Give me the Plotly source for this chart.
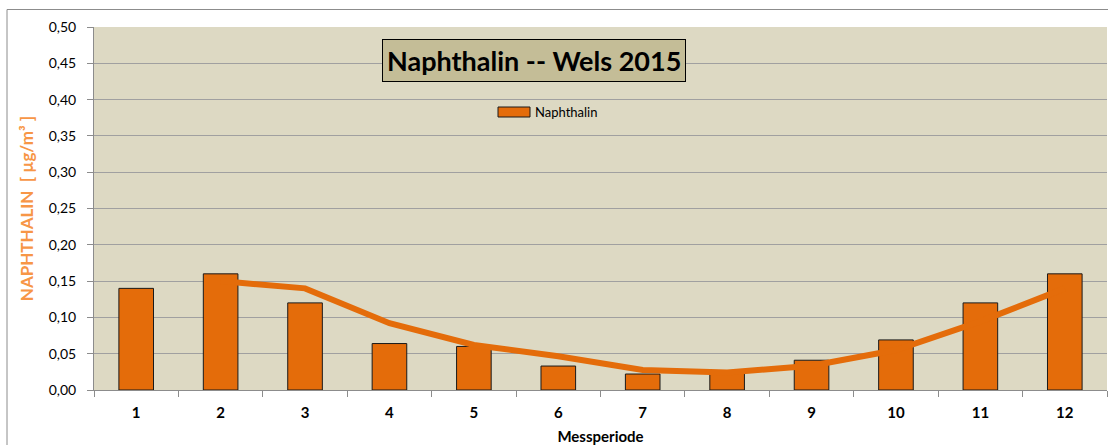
import plotly.graph_objects as go

periods = [str(i) for i in range(1, 13)]
naphthalin = [0.14, 0.16, 0.12, 0.064, 0.06, 0.033, 0.022, 0.026, 0.041, 0.069, 0.12, 0.16]
trend_x = periods[1:]
trend_y = [0.15, 0.14, 0.092, 0.062, 0.0465, 0.0275, 0.024, 0.0335, 0.055, 0.0945, 0.14]
y_ticks = [i * 0.05 for i in range(11)]
y_labels = [f"{v:.2f}".replace(".", ",") for v in y_ticks]

FONT = "Lato, 'Open Sans', sans-serif"
ORANGE = "#e46c0a"

L, R, T, B = 94, 1, 27, 55
W, H = 1108, 445
PW, PH = W - L - R, H - T - B


def px(x):
    return (x - L) / PW


def py(y):
    return (H - B - y) / PH


fig = go.Figure()
fig.add_trace(go.Bar(
    x=periods, y=naphthalin, name="Naphthalin", showlegend=False,
    marker=dict(color=ORANGE, line=dict(color="#1a1a1a", width=1)),
    width=0.41,
))
fig.add_trace(go.Scatter(
    x=trend_x, y=trend_y, mode="lines", showlegend=False,
    line=dict(color=ORANGE, width=6),
))

fig.update_layout(
    width=W, height=H,
    margin=dict(l=L, r=R, t=T, b=B),
    paper_bgcolor="white",
    plot_bgcolor="#ddd9c3",
    font=dict(family=FONT, size=14, color="#000000"),
    showlegend=False,
    xaxis=dict(
        type="category", showgrid=False, automargin=False,
        showline=True, linecolor="#8c8c8c", linewidth=1,
        ticks="outside", tickson="boundaries", ticklen=6, tickcolor="#8c8c8c",
        tickfont=dict(size=15, family=FONT, color="#000"),
        tickprefix="<b>", ticksuffix="</b>", ticklabelstandoff=9,
        title=dict(text="<b>Messperiode</b>", font=dict(size=15, family=FONT), standoff=16),
        range=[-0.5, 11.5],
    ),
    yaxis=dict(
        range=[0, 0.5], tickvals=y_ticks, ticktext=y_labels, automargin=False,
        showgrid=True, gridcolor="#a0a0a0", gridwidth=1,
        showline=True, linecolor="#8c8c8c", linewidth=1,
        ticks="outside", ticklen=6, tickcolor="#8c8c8c", ticklabelstandoff=8,
        tickfont=dict(size=14, family=FONT, color="#000"),
        title=dict(text="<b>NAPHTHALIN  [ µg/m³ ]</b>",
                   font=dict(size=17, family=FONT, color="#f79646"), standoff=10),
        zeroline=False,
    ),
)

fig.add_annotation(
    x=px(533.5), y=py(60), xref="paper", yref="paper",
    xanchor="center", yanchor="middle",
    text="<b>Naphthalin -- Wels 2015</b>", showarrow=False,
    font=dict(size=27, family=FONT, color="#000"),
    bgcolor="#c4bd97", bordercolor="#000", borderwidth=1, borderpad=4,
)
# legend swatch + label
fig.add_shape(type="rect", xref="paper", yref="paper",
              x0=px(498), x1=px(530), y0=py(117), y1=py(107),
              fillcolor=ORANGE, line=dict(color="#1a1a1a", width=1))
fig.add_annotation(x=px(533), y=py(112), xref="paper", yref="paper",
                   xanchor="left", yanchor="middle", showarrow=False,
                   text="Naphthalin", font=dict(size=13, family=FONT, color="#000"))
# outer chart border
fig.add_shape(type="rect", xref="paper", yref="paper",
              x0=px(7), y0=py(470), x1=px(1120), y1=py(9.5),
              line=dict(color="#8c8c8c", width=1), fillcolor="rgba(0,0,0,0)", layer="below")

fig.write_html("out.html", config={"displayModeBar": False},
               post_script="document.body.style.margin='0';document.body.style.overflow='hidden';")
